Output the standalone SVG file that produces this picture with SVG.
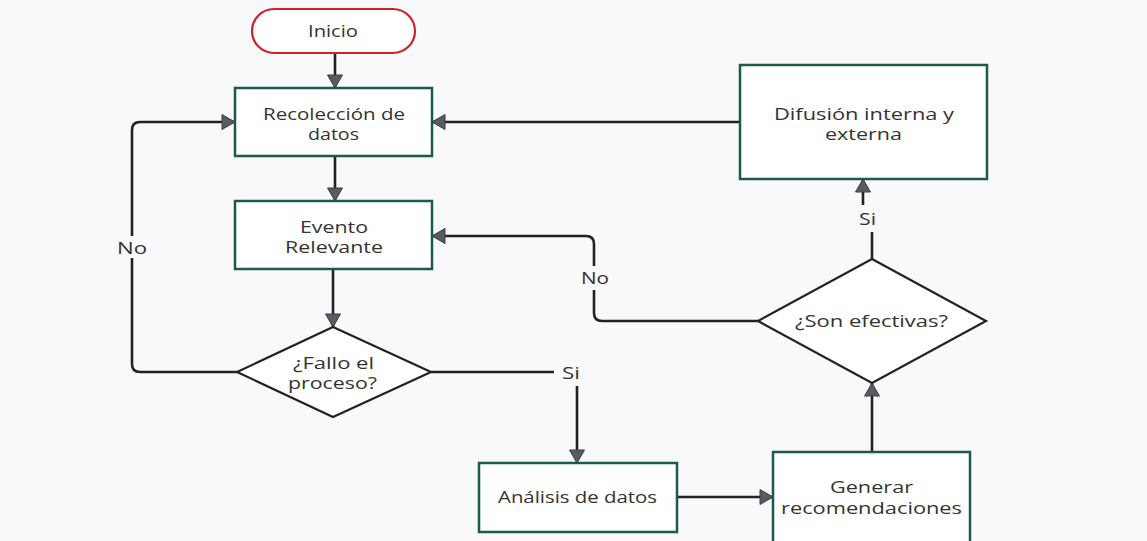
<svg xmlns="http://www.w3.org/2000/svg" width="1147" height="541" viewBox="0 0 1147 541">
<style>
.bg{fill:#f9f9fc}
.box{fill:#ffffff;stroke:#1d5a4e;stroke-width:2.5}
.dia{fill:#ffffff;stroke:#222222;stroke-width:2.2}
.start{fill:#ffffff;stroke:#c9262b;stroke-width:2.2}
.t{font-family:"Open Sans","Noto Sans","DejaVu Sans",sans-serif;font-size:16px;fill:#333333;text-anchor:middle}
.edge{fill:none;stroke:#222222;stroke-width:2.6;stroke-linejoin:round}
.lbl{font-family:"Open Sans","Noto Sans","DejaVu Sans",sans-serif;font-size:16px;fill:#333333;text-anchor:middle}
.lblbg{fill:#f9f9fc}
</style>
<defs>
<marker id="ah" markerUnits="userSpaceOnUse" markerWidth="16" markerHeight="18" viewBox="0 0 16 18" refX="14" refY="9" orient="auto">
<path d="M1,1.5 L14,9 L1,16.5 Z" fill="#585c62" stroke="#3a3d42" stroke-width="1"/>
</marker>
</defs>
<rect class="bg" x="0" y="0" width="1147" height="541"/>

<g id="connectors">
<path class="edge" d="M335,53 L335,88" marker-end="url(#ah)"/>
<path class="edge" d="M335,156 L335,201" marker-end="url(#ah)"/>
<path class="edge" d="M333,269 L333,327" marker-end="url(#ah)"/>
<path class="edge" d="M237,372 L140,372 Q132,372 132,364 L132,130 Q132,122 140,122 L235,122" marker-end="url(#ah)"/>
<path class="edge" d="M431,372 L577,372 L577,463" marker-end="url(#ah)"/>
<path class="edge" d="M677,497 L773,497" marker-end="url(#ah)"/>
<path class="edge" d="M872,452 L872,383" marker-end="url(#ah)"/>
<path class="edge" d="M872,259 L872,219 L863,219 L863,179" marker-end="url(#ah)"/>
<path class="edge" d="M740,122 L432,122" marker-end="url(#ah)"/>
<path class="edge" d="M758,321 L602,321 Q594,321 594,313 L594,244 Q594,236 586,236 L432,236" marker-end="url(#ah)"/>
<rect class="lblbg" x="112" y="236" width="40" height="22"/>
<text class="lbl" x="132" y="254" textLength="30" lengthAdjust="spacingAndGlyphs">No</text>
<rect class="lblbg" x="554" y="362" width="32" height="24"/>
<text class="lbl" x="571" y="379" textLength="18" lengthAdjust="spacingAndGlyphs">Si</text>
<rect class="lblbg" x="853" y="205" width="30" height="27"/>
<text class="lbl" x="867.5" y="225" textLength="17" lengthAdjust="spacingAndGlyphs">Si</text>
<rect class="lblbg" x="576" y="266" width="36" height="24"/>
<text class="lbl" x="595" y="284" textLength="28" lengthAdjust="spacingAndGlyphs">No</text>
</g>

<g id="inicio">
<rect class="start" x="252" y="9" width="163" height="44" rx="22" ry="22"/>
<text class="t" x="333" y="37" textLength="50" lengthAdjust="spacingAndGlyphs">Inicio</text>
</g>
<g id="recoleccion">
<rect class="box" x="235" y="88" width="197" height="68"/>
<text class="t" x="334" y="119.5" textLength="142" lengthAdjust="spacingAndGlyphs">Recolección de</text>
<text class="t" x="333.5" y="139.5" textLength="51" lengthAdjust="spacingAndGlyphs">datos</text>
</g>
<g id="evento">
<rect class="box" x="235" y="201" width="197" height="68"/>
<text class="t" x="334" y="232.5" textLength="68" lengthAdjust="spacingAndGlyphs">Evento</text>
<text class="t" x="334" y="252.5" textLength="98" lengthAdjust="spacingAndGlyphs">Relevante</text>
</g>
<g id="fallo">
<polygon class="dia" points="333,327 431,372 333,417 237,372"/>
<text class="t" x="333.5" y="369" textLength="81" lengthAdjust="spacingAndGlyphs">¿Fallo el</text>
<text class="t" x="332.5" y="389" textLength="89" lengthAdjust="spacingAndGlyphs">proceso?</text>
</g>
<g id="analisis">
<rect class="box" x="479" y="463" width="198" height="69"/>
<text class="t" x="577.5" y="503" textLength="159" lengthAdjust="spacingAndGlyphs">Análisis de datos</text>
</g>
<g id="generar">
<rect class="box" x="773" y="452" width="197" height="100"/>
<text class="t" x="871.5" y="493" textLength="83" lengthAdjust="spacingAndGlyphs">Generar</text>
<text class="t" x="871.5" y="514" textLength="181" lengthAdjust="spacingAndGlyphs">recomendaciones</text>
</g>
<g id="efectivas">
<polygon class="dia" points="872,259 986,321 872,383 758,321"/>
<text class="t" x="871.5" y="327" textLength="153" lengthAdjust="spacingAndGlyphs">¿Son efectivas?</text>
</g>
<g id="difusion">
<rect class="box" x="740" y="65" width="247" height="114"/>
<text class="t" x="864" y="119.5" textLength="180" lengthAdjust="spacingAndGlyphs">Difusión interna y</text>
<text class="t" x="863.5" y="139.5" textLength="77" lengthAdjust="spacingAndGlyphs">externa</text>
</g>
</svg>
